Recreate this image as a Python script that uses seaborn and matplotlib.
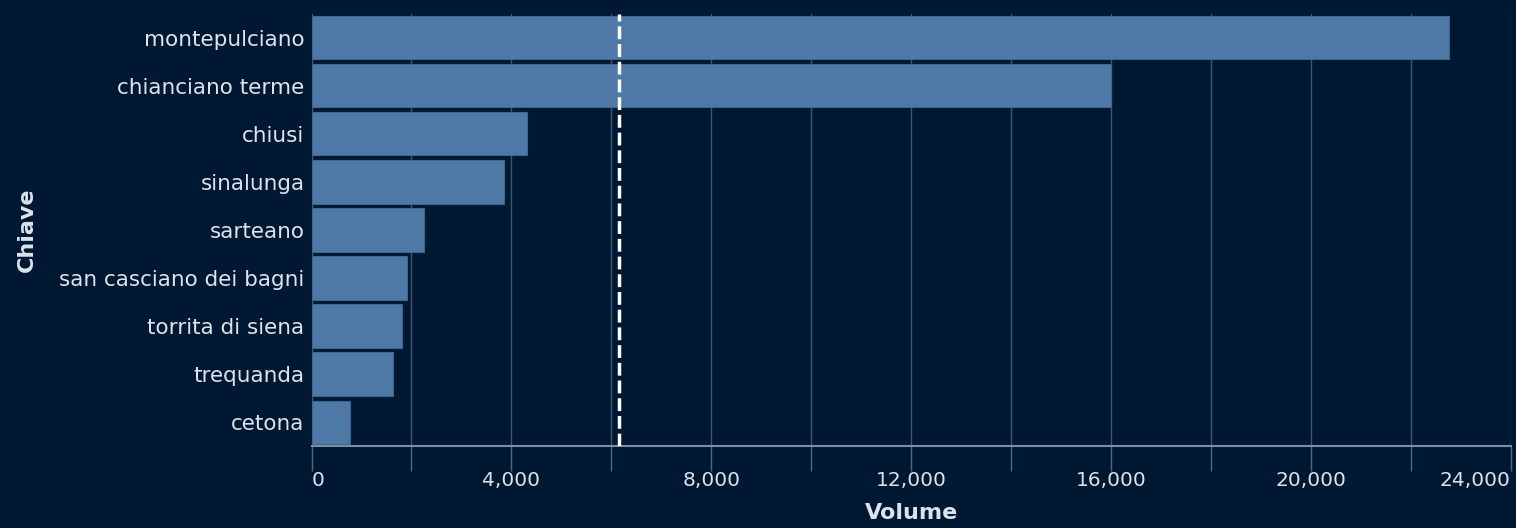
import numpy as np
import pandas as pd
import matplotlib
matplotlib.use("Agg")
import matplotlib.pyplot as plt
import seaborn as sns
from matplotlib.ticker import MultipleLocator

# data
comuni = ['montepulciano', 'chianciano terme', 'chiusi', 'sinalunga', 'sarteano',
          'san casciano dei bagni', 'torrita di siena', 'trequanda', 'cetona']
volumi = [22760, 16000, 4320, 3860, 2260, 1920, 1820, 1640, 760]
x_ticks = [0, 4000, 8000, 12000, 16000, 20000, 24000]

BG = '#001831'
BAR = '#4e79a7'
TXT = '#dde3ea'

sns.set_style('dark')
plt.rcParams['font.family'] = ['DejaVu Sans']

df = pd.DataFrame({'Chiave': comuni, 'Volume': volumi})

fig = plt.figure(figsize=(15.16, 5.28), dpi=100, facecolor=BG)
ax = fig.add_axes([0.2055, 0.155, 0.791, 0.819])
ax.set_facecolor(BG)

sns.barplot(data=df, x='Volume', y='Chiave', color=BAR, width=0.9,
            edgecolor='#3d6690', linewidth=0.8, saturation=1, ax=ax, zorder=3)

# mean line
ax.axvline(np.mean(volumi), color='white', lw=2.5, ls=(0, (3.7, 1.4)), zorder=4)

ax.set_xlim(0, 24000)
ax.set_xticks(x_ticks, [f'{v:,}' for v in x_ticks])
ax.xaxis.set_minor_locator(MultipleLocator(2000))
ax.grid(True, axis='x', which='both', color='#3f5670', lw=1, zorder=0)
ax.grid(False, axis='y')

for s in ['top', 'right', 'left']:
    ax.spines[s].set_visible(False)
ax.spines['bottom'].set_color('#7f8fa3')
ax.spines['bottom'].set_linewidth(1.5)

ax.tick_params(axis='x', which='both', bottom=True, colors='#55687f', length=18,
               width=1, labelcolor=TXT, labelsize=14.5, pad=0)
ax.tick_params(axis='y', left=False, length=0, labelcolor=TXT, labelsize=15.5, pad=5)

major = ax.xaxis.get_major_ticks()
major[0].label1.set_horizontalalignment('left')
major[-1].label1.set_horizontalalignment('right')

ax.set_xlabel('Volume', color=TXT, fontsize=16, fontweight='bold', labelpad=9)
ax.set_ylabel('Chiave', color=TXT, fontsize=16, fontweight='bold')
ax.yaxis.set_label_coords(-0.229, 0.5)

fig.savefig('out.png', dpi=100, facecolor=BG)
